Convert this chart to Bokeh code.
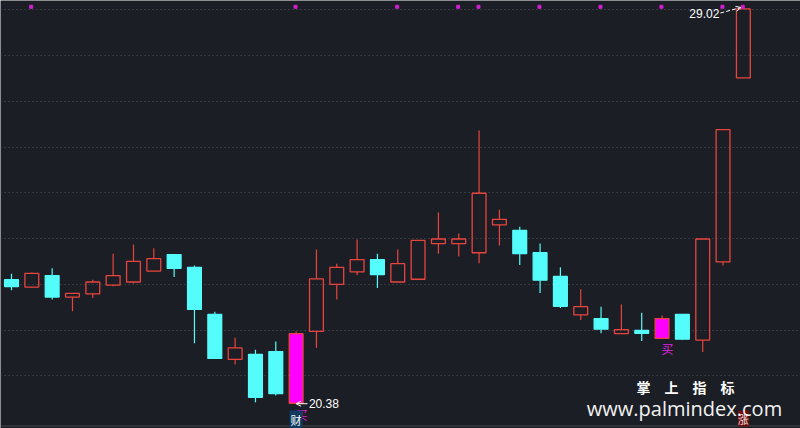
import numpy as np
from bokeh.plotting import figure
from bokeh.models import (ColumnDataSource, FixedTicker, Label, Arrow, OpenHead,
                          Range1d, Span)
from bokeh.core.properties import value
from bokeh.embed import file_html
from bokeh.resources import INLINE

# ---------------- data ----------------
opens  = [23.10, 22.94, 23.19, 22.72, 22.79, 22.98, 23.05, 23.29, 23.65, 23.37,
          22.34, 21.36, 21.47, 21.53, 20.40, 21.97, 23.00, 23.27, 23.54, 23.05,
          23.11, 23.89, 23.89, 23.69, 24.30, 24.18, 23.69, 23.17, 22.33, 22.25,
          21.92, 21.99, 21.82, 22.34, 21.78, 23.49, 27.51]
highs  = [23.23, 23.26, 23.35, 22.80, 23.10, 23.67, 23.87, 23.79, 23.65, 23.41,
          22.40, 21.83, 21.57, 21.75, 21.97, 23.76, 23.45, 23.98, 23.67, 23.76,
          23.96, 24.57, 24.11, 26.36, 24.63, 24.26, 23.89, 23.37, 22.89, 22.51,
          22.56, 22.38, 22.32, 22.34, 23.99, 26.38, 29.02]
lows   = [22.87, 22.93, 22.67, 22.41, 22.70, 22.96, 23.02, 23.29, 23.16, 21.71,
          21.38, 21.25, 20.42, 20.57, 20.38, 21.61, 22.67, 23.20, 22.92, 23.05,
          23.11, 23.67, 23.61, 23.46, 23.85, 23.42, 22.81, 22.48, 22.22, 21.93,
          21.92, 21.76, 21.82, 21.78, 21.52, 23.41, 27.51]
closes = [22.95, 23.24, 22.72, 22.80, 23.05, 23.19, 23.50, 23.56, 23.35, 22.45,
          21.38, 21.61, 20.53, 20.61, 21.92, 23.12, 23.37, 23.54, 23.21, 23.45,
          23.96, 23.99, 23.99, 24.99, 24.42, 23.67, 23.09, 22.52, 22.51, 22.02,
          22.01, 21.93, 22.25, 21.80, 23.99, 26.38, 29.02]
signal_days = [1, 14, 19, 22, 23, 26, 29, 32, 35, 36]   # magenta dots on top
highlight_days = [14, 32]                                # magenta-filled candles
buy_days = [14, 32]                                      # "买" marks
finance_days = [14]                                      # "财" tag
rise_days = [36]                                         # "涨" tag
grid_levels = [21, 22, 23, 24, 25, 26, 27, 28, 29]

# ---------------- style ----------------
BG = "#1c1e25"
RED = "#e8443f"
CYAN = "#54fcfc"
MAGENTA = "#ff00ff"
DOT = "#d21ed2"

o = np.array(opens); h = np.array(highs); l = np.array(lows); c = np.array(closes)
n = len(o)
idx = np.arange(n)
top = np.maximum(o, c)
bot = np.minimum(o, c)
up = c >= o

fill = np.where(up, BG, CYAN).astype(object)
fill_alpha = np.where(up, 0.0, 1.0)
line = np.where(up, RED, CYAN).astype(object)
for d in highlight_days:
    fill[d] = MAGENTA
    fill_alpha[d] = 1.0
    line[d] = RED

W, H = 800, 428
x0, x1 = -0.541, 38.81
y0, y1 = 19.848, 29.2033

p = figure(width=W, height=H, output_backend="svg", toolbar_location=None,
           x_range=Range1d(x0, x1), y_range=Range1d(y0, y1),
           x_axis_location=None, y_axis_location=None,
           background_fill_color=BG, border_fill_color=BG,
           min_border=0, outline_line_color=None)

p.xgrid.visible = False
p.ygrid.ticker = FixedTicker(ticks=grid_levels)
p.ygrid.grid_line_color = "#50535b"
p.ygrid.grid_line_dash = "1 3"
p.ygrid.grid_line_width = 1

# bottom border line
p.add_layout(Span(location=y0 + (y1 - y0) * 2.5 / H, dimension="width",
                  line_color="#43464e", line_width=1))

src = ColumnDataSource(dict(x=idx, o=o, h=h, l=l, c=c, top=top, bot=bot,
                            fill=list(fill), fa=list(fill_alpha), line=list(line)))

# wicks (upper and lower separately so hollow bodies stay empty)
p.segment(x0="x", y0="top", x1="x", y1="h", source=src, line_color="line", line_width=1.2)
p.segment(x0="x", y0="l", x1="x", y1="bot", source=src, line_color="line", line_width=1.2)
# bodies
p.vbar(x="x", width=0.68, top="top", bottom="bot", source=src,
       fill_color="fill", fill_alpha="fa", line_color="line", line_width=1.3)

# top signal dots
dot_y = y1 - (y1 - y0) * 6.3 / H
p.scatter(x=[d - 0.03 for d in signal_days], y=[dot_y] * len(signal_days),
          marker="square", size=3, fill_color=DOT, line_color=DOT)

# "买" marks below buy candles
p.text(x=[d + 0.27 for d in buy_days], y=[l[d] - 0.03 for d in buy_days],
       text=["买"] * len(buy_days), text_color="#e022e0",
       text_font=value("Noto Sans CJK SC"), text_font_size="12px",
       text_align="center", text_baseline="top")

# max annotation
imax = int(np.argmax(h))
p.add_layout(Arrow(end=OpenHead(size=5, line_color="white", line_width=1),
                   x_start=imax - 1.13, y_start=h[imax] - 0.09,
                   x_end=imax - 0.12, y_end=h[imax] + 0.03,
                   line_color="white", line_width=1, line_dash="4 2"))
p.add_layout(Label(x=imax - 1.18, y=h[imax] - 0.11, text=f"{h[imax]:.2f}",
                   text_color="white", text_font="Liberation Sans",
                   text_font_size="12px", text_align="right", text_baseline="middle"))

# min annotation
imin = int(np.argmin(l))
p.add_layout(Arrow(end=OpenHead(size=5, line_color="white", line_width=1),
                   x_start=imin + 0.56, y_start=l[imin] + 0.01,
                   x_end=imin, y_end=l[imin] + 0.01,
                   line_color="white", line_width=1))
p.add_layout(Label(x=imin + 0.63, y=l[imin] + 0.01, text=f"{l[imin]:.2f}",
                   text_color="white", text_font="Liberation Sans",
                   text_font_size="12px", text_align="left", text_baseline="middle"))

# event tags at the bottom
for d in finance_days:
    p.add_layout(Label(x=d, y=9, y_units="screen", text="财", text_color="white",
                       text_font="Noto Sans CJK SC", text_font_size="11px",
                       text_align="center", text_baseline="middle",
                       background_fill_color="#103a60", padding=1))
for d in rise_days:
    p.add_layout(Label(x=d, y=10, y_units="screen", text="涨", text_color="#f0e0e0",
                       text_font="Noto Sans CJK SC", text_font_size="11px",
                       text_align="center", text_baseline="middle",
                       background_fill_color="#6e0b0b", padding=0))

# watermark
p.add_layout(Label(x=685, y=42, x_units="screen", y_units="screen", text="掌　上　指　标",
                   text_color="white", text_font="Noto Sans CJK SC", text_font_size="14px",
                   text_font_style="bold", text_align="center", text_baseline="middle"))
p.add_layout(Label(x=684, y=20, x_units="screen", y_units="screen", text="www.palmindex.com",
                   text_color="#f2f2f2", text_font="Open Sans", text_font_size="20px",
                   text_align="center", text_baseline="alphabetic"))

open("out.html", "w").write(file_html(p, INLINE))
